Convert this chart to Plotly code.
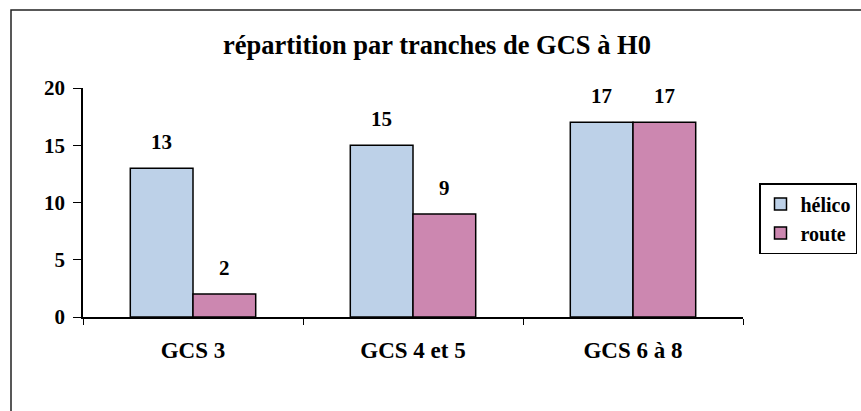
import plotly.graph_objects as go

categories = ["GCS 3", "GCS 4 et 5", "GCS 6 à 8"]
helico = [13, 15, 17]
route = [2, 9, 17]
series_names = ["hélico", "route"]
title_text = "répartition par tranches de GCS à H0"
y_ticks = [0, 5, 10, 15, 20]

FONT = "Liberation Serif, Times New Roman, serif"
W, H = 861, 411
ml, mr, mt, mb = 83, 118, 88, 94
pw, ph = W - ml - mr, H - mt - mb

fig = go.Figure()
fig.add_trace(go.Bar(x=categories, y=helico, name=series_names[0],
                     marker=dict(color="#bdd1e8", line=dict(color="black", width=1.5))))
fig.add_trace(go.Bar(x=categories, y=route, name=series_names[1],
                     marker=dict(color="#cc87b0", line=dict(color="black", width=1.5))))

annotations = []
for i, (a, b) in enumerate(zip(helico, route)):
    for off, v in ((-0.1433, a), (0.1433, b)):
        annotations.append(dict(x=i + off, y=v, xref="x", yref="y", text="<b>%d</b>" % v,
                                showarrow=False, yanchor="bottom", yshift=12,
                                font=dict(family=FONT, size=21, color="black")))

annotations.append(dict(x=(437 - ml) / pw, y=1 + (mt - 45) / ph, xref="paper", yref="paper",
                        text="<b>" + title_text + "</b>", showarrow=False,
                        xanchor="center", yanchor="middle",
                        font=dict(family=FONT, size=26.5, color="black")))

fig.update_layout(
    width=W, height=H,
    margin=dict(l=ml, r=mr, t=mt, b=mb, autoexpand=False),
    paper_bgcolor="white", plot_bgcolor="white",
    barmode="group", bargap=0.43, bargroupgap=0,
    font=dict(family=FONT, size=21, color="black"),
    showlegend=True,
    legend=dict(x=(759 - ml) / pw, y=1 - (183 - mt) / ph, xanchor="left", yanchor="top",
                bordercolor="black", borderwidth=1.5, bgcolor="white",
                font=dict(family=FONT, size=20, color="black", weight="bold"),
                itemwidth=30, tracegroupgap=4),
    annotations=annotations,
    shapes=[dict(type="rect", xref="paper", yref="paper",
                 x0=(11 - ml) / pw, x1=(880 - ml) / pw,
                 y0=-(430 - (mt + ph)) / ph, y1=1 + (mt - 10) / ph,
                 line=dict(color="#222", width=1.5), fillcolor="rgba(0,0,0,0)", layer="below")],
)
fig.update_xaxes(showline=True, linecolor="black", linewidth=1.5, showgrid=False,
                 ticks="outside", tickson="boundaries", ticklen=6, tickcolor="black",
                 range=[-0.5, 2.5], ticklabelstandoff=12,
                 tickfont=dict(family=FONT, size=23, weight="bold"))
fig.update_yaxes(showline=True, linecolor="black", linewidth=1.5, showgrid=False,
                 ticks="outside", ticklen=8, tickcolor="black", zeroline=False,
                 range=[0, 20], tickvals=y_ticks, ticklabelstandoff=4,
                 tickfont=dict(family=FONT, size=21, weight="bold"))

fig.write_html("out.html", post_script="document.body.style.margin='0';",
               config={"displayModeBar": False})
